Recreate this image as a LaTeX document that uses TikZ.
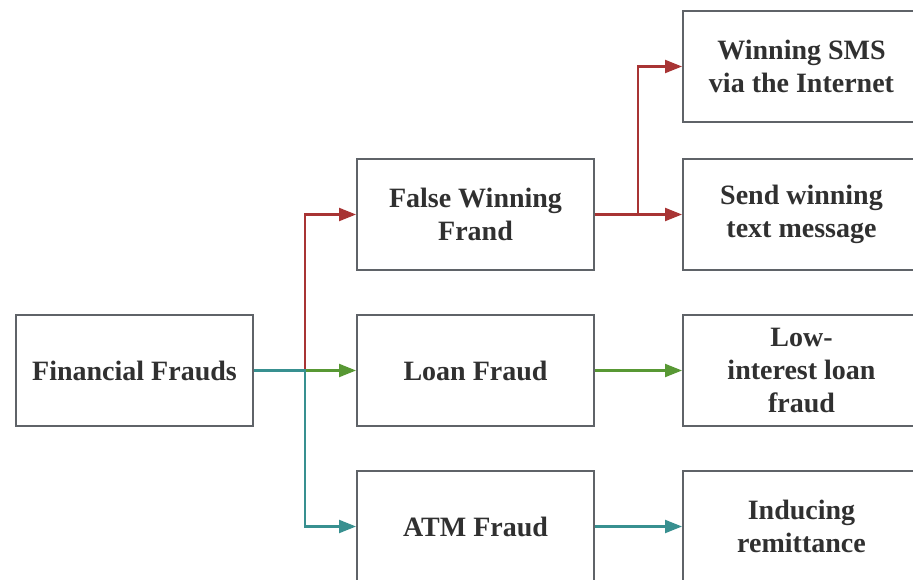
\documentclass[tikz,border=0pt]{standalone}
\definecolor{boxgray}{RGB}{95, 99, 104}
\definecolor{txtgray}{RGB}{48, 48, 48}
\definecolor{fraudred}{RGB}{168, 52, 52}
\definecolor{loangreen}{RGB}{88, 152, 52}
\definecolor{atmteal}{RGB}{56, 144, 144}
\usepackage{fontspec}
\newfontfamily\fraudfont{Liberation Serif}[BoldFont={Liberation Serif Bold}]
\usepackage{tikz}
\usetikzlibrary{arrows.meta, positioning, calc}

\tikzset{
  fbox/.style={draw=boxgray, line width=2pt, fill=white, minimum width=237pt, minimum height=111pt,
    align=center, text=txtgray, font=\fraudfont\bfseries\fontsize{28}{33}\selectfont, inner sep=0pt},
  flink/.style={line width=2.2pt, -{Triangle[length=17pt, width=13pt]}},
}

\begin{document}
\begin{tikzpicture}
  \useasboundingbox (0,0) rectangle (913pt,579pt);
  \node[fbox] (fin) at (134.5pt,208.5pt) {Financial Frauds};
  \node[fbox, right=102pt of fin] (loan) {Loan Fraud};
  \node[fbox, above=43pt of loan] (fwf) {False Winning\\Frand};
  \node[fbox, below=43pt of loan] (atm) {ATM Fraud};
  \node[fbox, right=87pt of fwf] (send) {Send winning\\text message};
  \node[fbox, above=35pt of send] (sms) {Winning SMS\\via the Internet};
  \node[fbox, right=87pt of loan] (low) {Low-\\interest loan\\fraud};
  \node[fbox, right=87pt of atm] (ind) {Inducing\\remittance};

  \coordinate (j1) at ($(fin.east)+(51pt,0)$);
  \coordinate (j2) at ($(fwf.east)+(43pt,0)$);

  \draw[flink, fraudred] (j1) |- (fwf.west);
  \draw[flink, loangreen] (j1) -- (loan.west);
  \draw[flink, atmteal] (fin.east) -- (j1) |- (atm.west);

  \draw[flink, fraudred] (fwf.east) -- (send.west);
  \draw[flink, fraudred] (j2) |- (sms.west);
  \draw[flink, loangreen] (loan.east) -- (low.west);
  \draw[flink, atmteal] (atm.east) -- (ind.west);
\end{tikzpicture}
\end{document}
